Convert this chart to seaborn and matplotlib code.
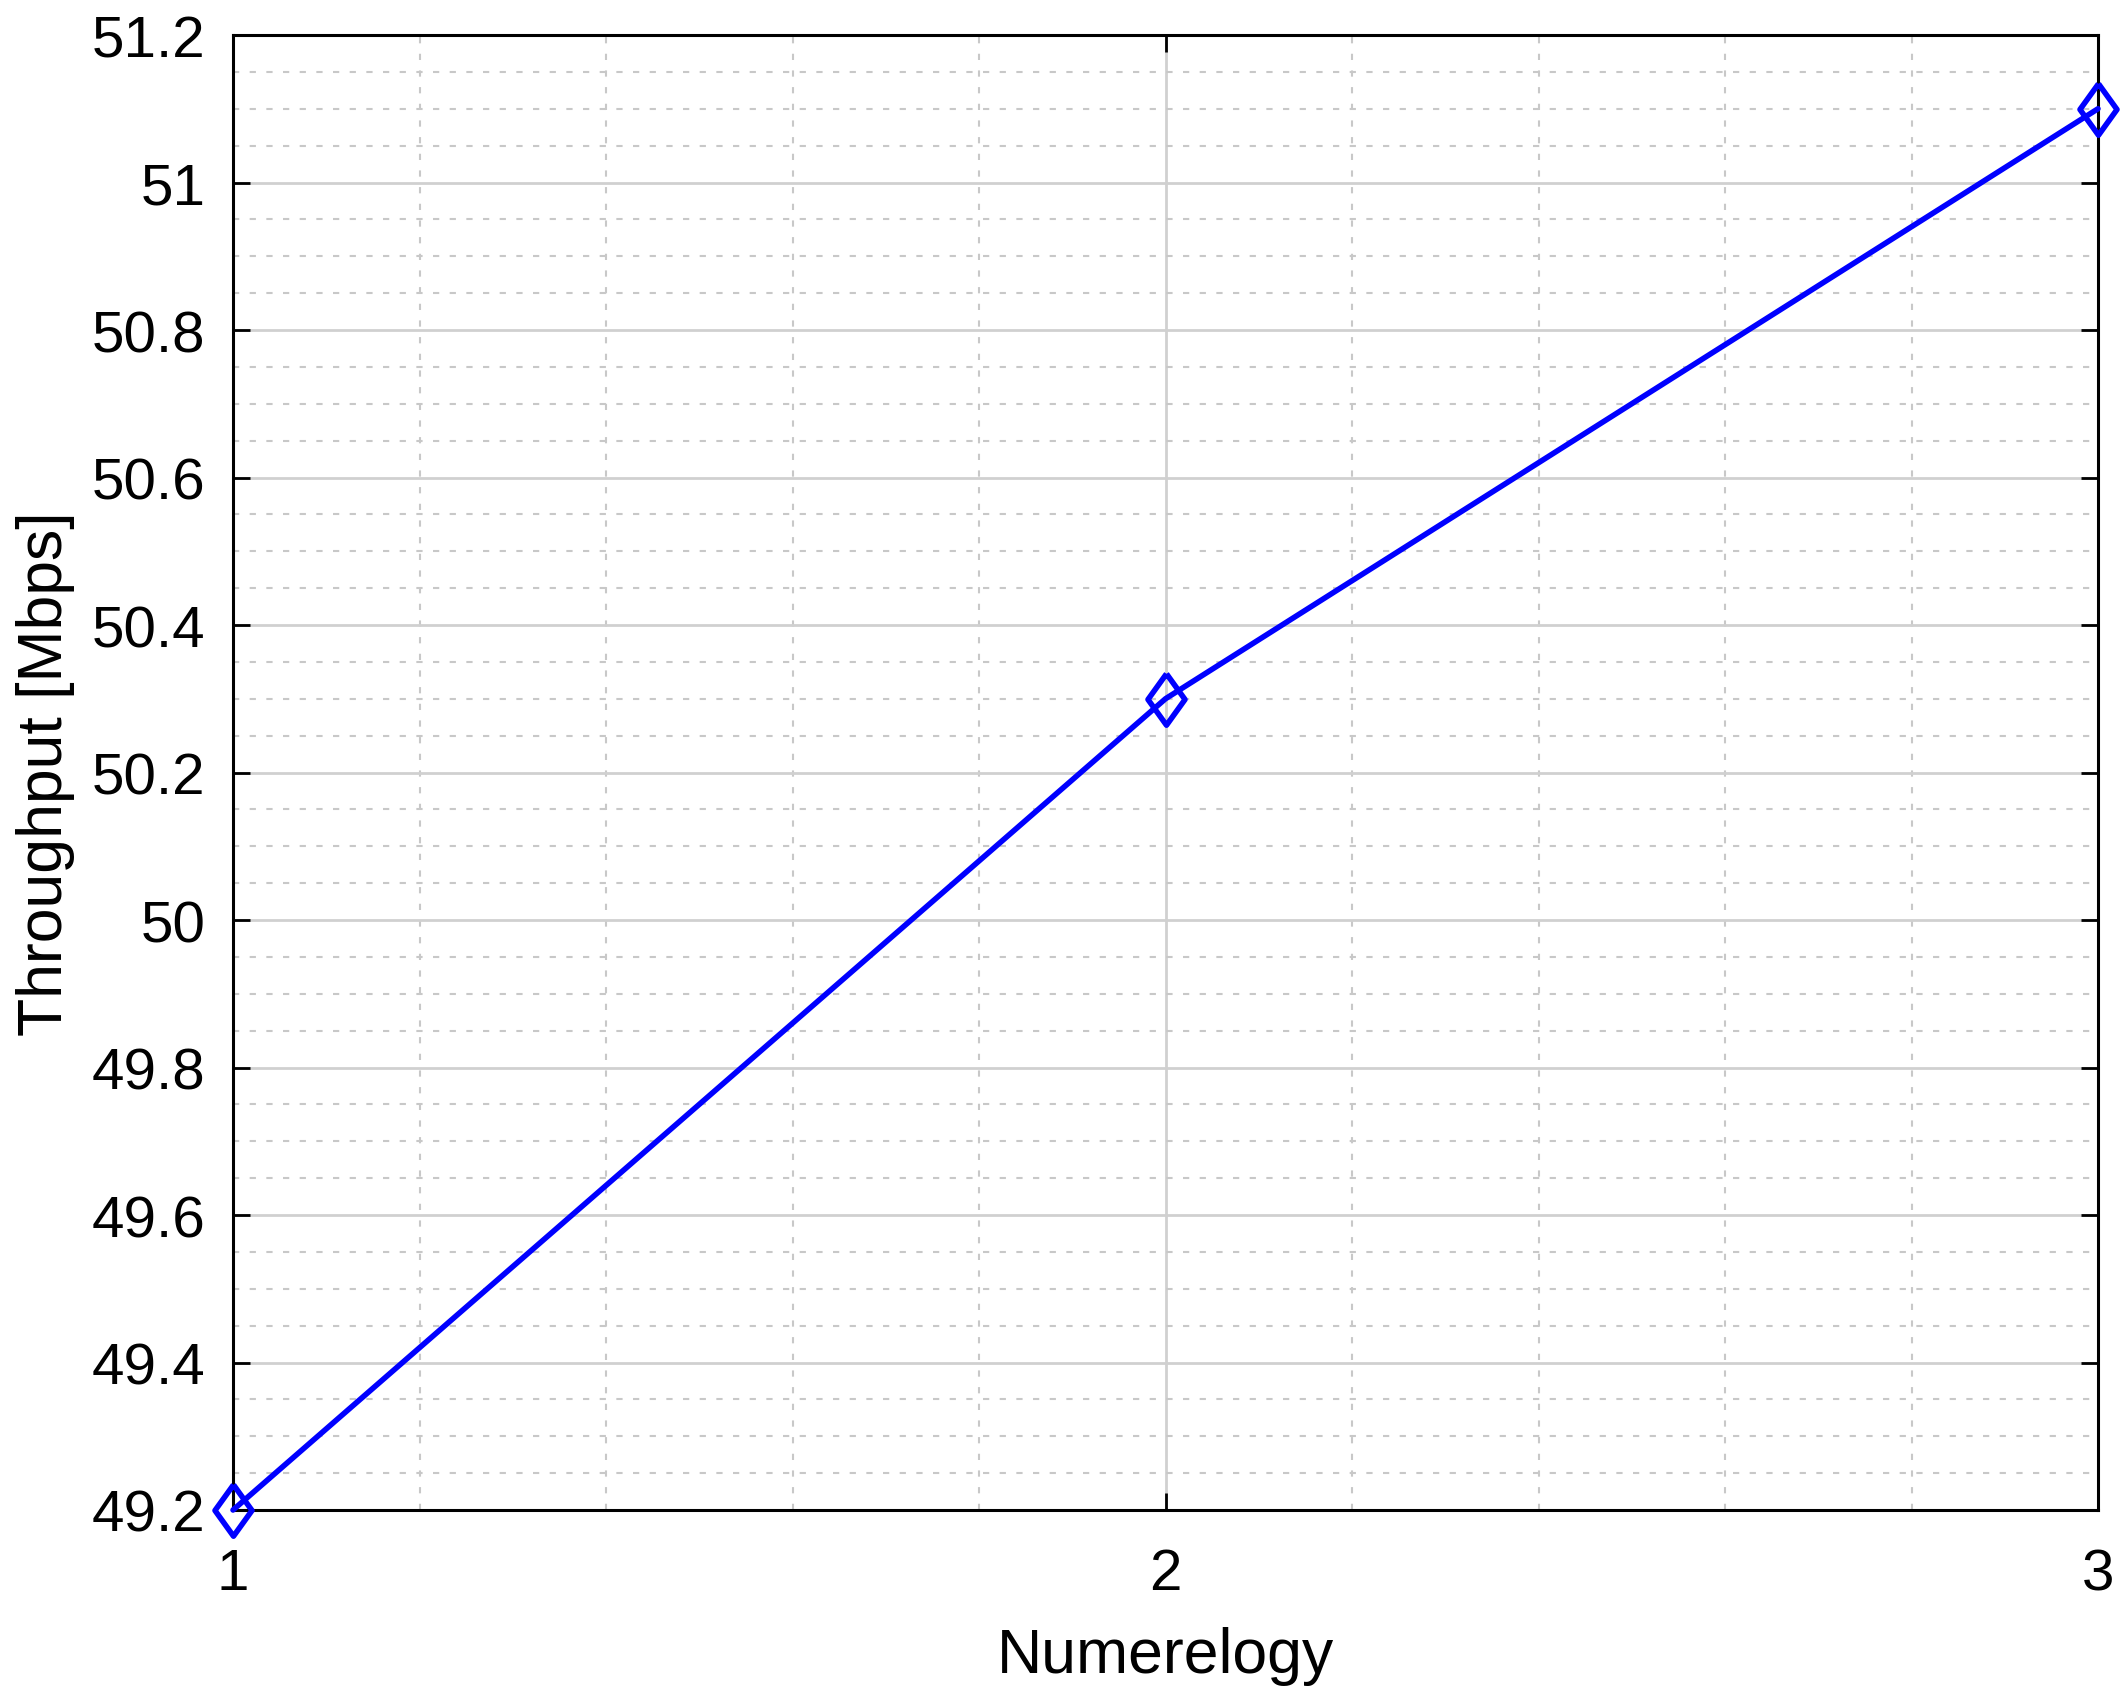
import matplotlib
matplotlib.use("Agg")
import matplotlib.pyplot as plt
import seaborn as sns
import pandas as pd
from matplotlib.ticker import MultipleLocator

# Throughput vs numerology
numerology = [1, 2, 3]
throughput = [49.2, 50.3, 51.1]

sns.set_style("white")
plt.rcParams['font.family'] = ['Liberation Sans', 'DejaVu Sans']
plt.rcParams['text.color'] = 'black'
plt.rcParams['axes.labelcolor'] = 'black'
plt.rcParams['xtick.color'] = 'black'
plt.rcParams['ytick.color'] = 'black'

df = pd.DataFrame({'Numerelogy': numerology, 'Throughput': throughput})

# diamond a bit narrower than tall, like the original marker
diamond = [(0, 1), (0.72, 0), (0, -1), (-0.72, 0), (0, 1)]

fig = plt.figure(figsize=(21.26, 17.06), dpi=100)
W, H = 2126, 1706
ax = fig.add_axes([233 / W, 1 - 1511 / H, (2098 - 233) / W, (1511 - 36) / H])

sns.lineplot(data=df, x='Numerelogy', y='Throughput', ax=ax, color='#0000ff',
             linewidth=4, marker=diamond, markersize=37, markeredgewidth=4,
             markerfacecolor='none', markeredgecolor='#0000ff', clip_on=False, zorder=5)

ax.set_xlim(1, 3)
ax.set_ylim(49.2, 51.2)
ax.xaxis.set_major_locator(MultipleLocator(1))
ax.xaxis.set_minor_locator(MultipleLocator(0.2))
ax.yaxis.set_major_locator(MultipleLocator(0.2))
ax.yaxis.set_minor_locator(MultipleLocator(0.05))
ax.set_yticklabels([f"{v:g}" for v in ax.get_yticks()])

ax.grid(which='major', color='#d0d0d0', linewidth=2, linestyle='-')
ax.grid(which='minor', color='#c8c8c8', linewidth=1.5, linestyle=(0, (3, 5)))
ax.set_axisbelow(True)

for s in ax.spines.values():
    s.set_linewidth(2.2)
    s.set_color('black')

ax.tick_params(which='major', direction='in', length=12, width=2, labelsize=42,
               top=True, right=True, left=True, bottom=True)
ax.tick_params(which='minor', length=0)
ax.tick_params(axis='y', pad=20)
ax.tick_params(axis='x', pad=27)

ax.set_xlabel('Numerelogy', fontsize=45, labelpad=18)
ax.set_ylabel('Throughput [Mbps]', fontsize=45, labelpad=12)

fig.savefig('out.png', dpi=100)
